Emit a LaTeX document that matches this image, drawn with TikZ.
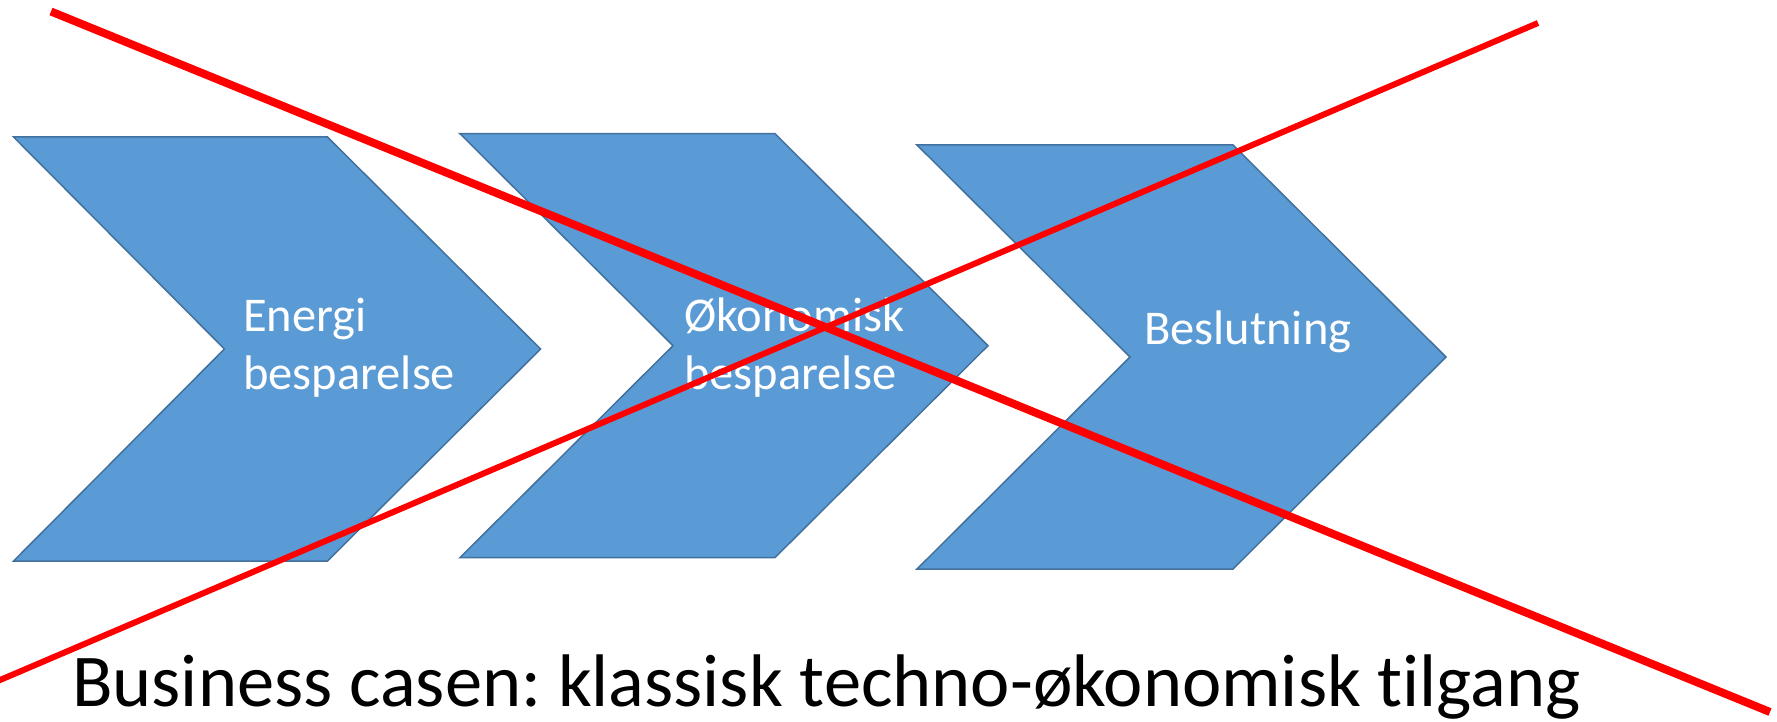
\documentclass[tikz,border=0pt]{standalone}
\usepackage{fontspec}
\setmainfont{Carlito}[Ligatures={NoCommon}]
\frenchspacing
\definecolor{chevfill}{HTML}{5B9BD5}
\definecolor{chevline}{HTML}{41719C}
\definecolor{crossred}{HTML}{FF0000}
\tikzset{
  chev/.style={fill=chevfill, draw=chevline, line width=1.5pt, line join=miter},
  lbl/.style={text=white, inner sep=0pt, anchor=base west, font=\fontsize{48.5}{58}\selectfont},
  ttl/.style={text=black, inner sep=0pt, anchor=base west, font=\fontsize{74.5}{88}\selectfont},
  crossline/.style={draw=crossred, line cap=butt}
}
\begin{document}
\begin{tikzpicture}[x=1pt, y=-1pt]
\useasboundingbox (0,0) rectangle (1777,722);
\fill[white] (0,0) rectangle (1777,722);
% chevrons
\path[chev] (13.6,137) -- (327.5,137) -- (540.6,349) -- (327.5,561) -- (13.6,561) -- (224.4,349) -- cycle;
\path[chev] (460,133.7) -- (775,133.7) -- (988,345.7) -- (775,557.6) -- (460,557.6) -- (673,345.7) -- cycle;
\path[chev] (917,145) -- (1233,145) -- (1446,357) -- (1233,569) -- (917,569) -- (1130,357) -- cycle;
% labels
\node[lbl] (e1) at (243,331.7) {Energi};
\node[lbl] (e2) at (243,389.5) {besparelse};
\node[lbl] (o1) at (684,331.7) {Økonomisk};
\node[lbl] (o2) at (684,389.5) {besparelse};
\node[lbl] (b1) at (1144,344) {Beslutning};
% title
\node[ttl] (title) at (72,706.5) {Business casen: klassisk techno-økonomisk tilgang};
% red cross
\coordinate (l1a) at (51,11.5);
\coordinate (l1b) at (1770,712);
\coordinate (l2a) at (-6,682.6);
\coordinate (l2b) at (1538,23);
\draw[crossline, line width=8pt] (l1a) -- (l1b);
\draw[crossline, line width=6pt] (l2a) -- (l2b);
\end{tikzpicture}
\end{document}
